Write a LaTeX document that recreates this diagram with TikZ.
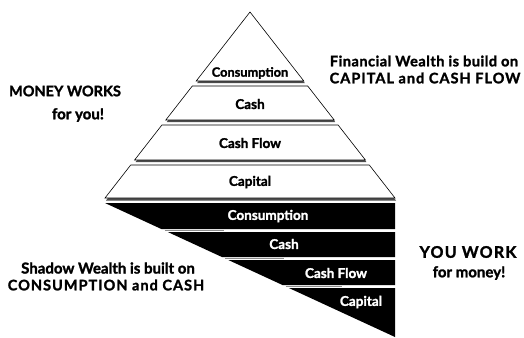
\documentclass[tikz,border=0pt]{standalone}
\usepackage{fontspec}
\setmainfont{Lato}[BoldFeatures={FakeBold=1.6}]
\usetikzlibrary{positioning}

\newcommand{\fs}[1]{\bfseries\fontsize{#1}{#1}\selectfont}
\newcommand{\fsl}[2]{\bfseries\fontsize{#1}{#1}\selectfont\addfontfeature{LetterSpace=#2}}

\tikzset{
  band/.style={draw=black, fill=white, line width=0.6pt, line join=miter},
  shade/.style={fill=black!70, draw=none},
  darkband/.style={fill=black, draw=none},
  gapline/.style={draw=black!45, line width=1pt},
  lbl/.style={font=\fs{13.5}, inner sep=0pt},
  wlbl/.style={lbl, text=white},
  txt/.style={inner sep=0pt}
}

\begin{document}
\begin{tikzpicture}[x=1pt, y=-1pt]
  \useasboundingbox (0,0) rectangle (524,337);

  % upper pyramid: money works for you
  \fill[shade] (251,14) -- (304.8,83) -- (197.2,83) -- cycle;
  \draw[band] (250,12) -- (303.8,81) -- (196.2,81) -- cycle;

  \fill[shade] (193.3,88) -- (308.7,88) -- (335.2,122) -- (166.8,122) -- cycle;
  \draw[band] (192.3,86) -- (307.7,86) -- (334.2,120) -- (165.8,120) -- cycle;

  \fill[shade] (162.9,127) -- (339.1,127) -- (366.4,162) -- (135.6,162) -- cycle;
  \draw[band] (161.9,125) -- (338.1,125) -- (365.4,160) -- (134.6,160) -- cycle;

  \fill[shade] (131.7,167) -- (370.3,167) -- (396,200.5) -- (106,200.5) -- cycle;
  \draw[band] (130.7,165) -- (369.3,165) -- (395,198) -- (105,198) -- cycle;

  \node[lbl, font=\fs{12.8}] (up1) at (250,73) {Consumption};
  \node[lbl] (up2) at (250,104) {Cash};
  \node[lbl] (up3) at (250,143) {Cash Flow};
  \node[lbl] (up4) at (250,182) {Capital};

  % lower part: you work for money
  \fill[darkband] (105,203) -- (395,203) -- (395,229) -- (161.3,229) -- cycle;
  \fill[darkband] (167.8,232) -- (395,232) -- (395,257) -- (221.9,257) -- cycle;
  \fill[darkband] (228.3,260) -- (395,260) -- (395,285) -- (282.5,285) -- cycle;
  \fill[darkband] (288.9,288) -- (395,288) -- (395,337) -- cycle;

  \draw[gapline] (164.5,230.5) -- (224,230.5);
  \draw[gapline] (225.1,258.5) -- (284,258.5);
  \draw[gapline] (285.7,286.5) -- (342,286.5);

  \node[wlbl] (dn1) at (268,216) {Consumption};
  \node[wlbl] (dn2) at (284,244) {Cash};
  \node[wlbl] (dn3) at (336,273) {Cash Flow};
  \node[wlbl] (dn4) at (361,302) {Capital};

  % side texts
  \node[txt, font=\fs{14.5}] (works) at (65,91) {MONEY WORKS};
  \node[txt, font=\fs{15}] (foryou) at (78,115) {for you!};

  \node[txt, font=\fsl{14.5}{3.5}] (fin1) at (424,61) {Financial Wealth is build on};
  \node[txt, font=\fsl{14.5}{7}] (fin2) at (425,78) {CAPITAL and CASH FLOW};

  \node[txt, font=\fs{15}] (sha1) at (108,268) {Shadow Wealth is built on};
  \node[txt, font=\fsl{14.5}{7}] (sha2) at (106,285) {CONSUMPTION and CASH};

  \node[txt, font=\fsl{16}{8}] (youwork) at (468,252) {YOU WORK};
  \node[txt, font=\fs{15}] (money) at (469,273) {for money!};
\end{tikzpicture}
\end{document}
